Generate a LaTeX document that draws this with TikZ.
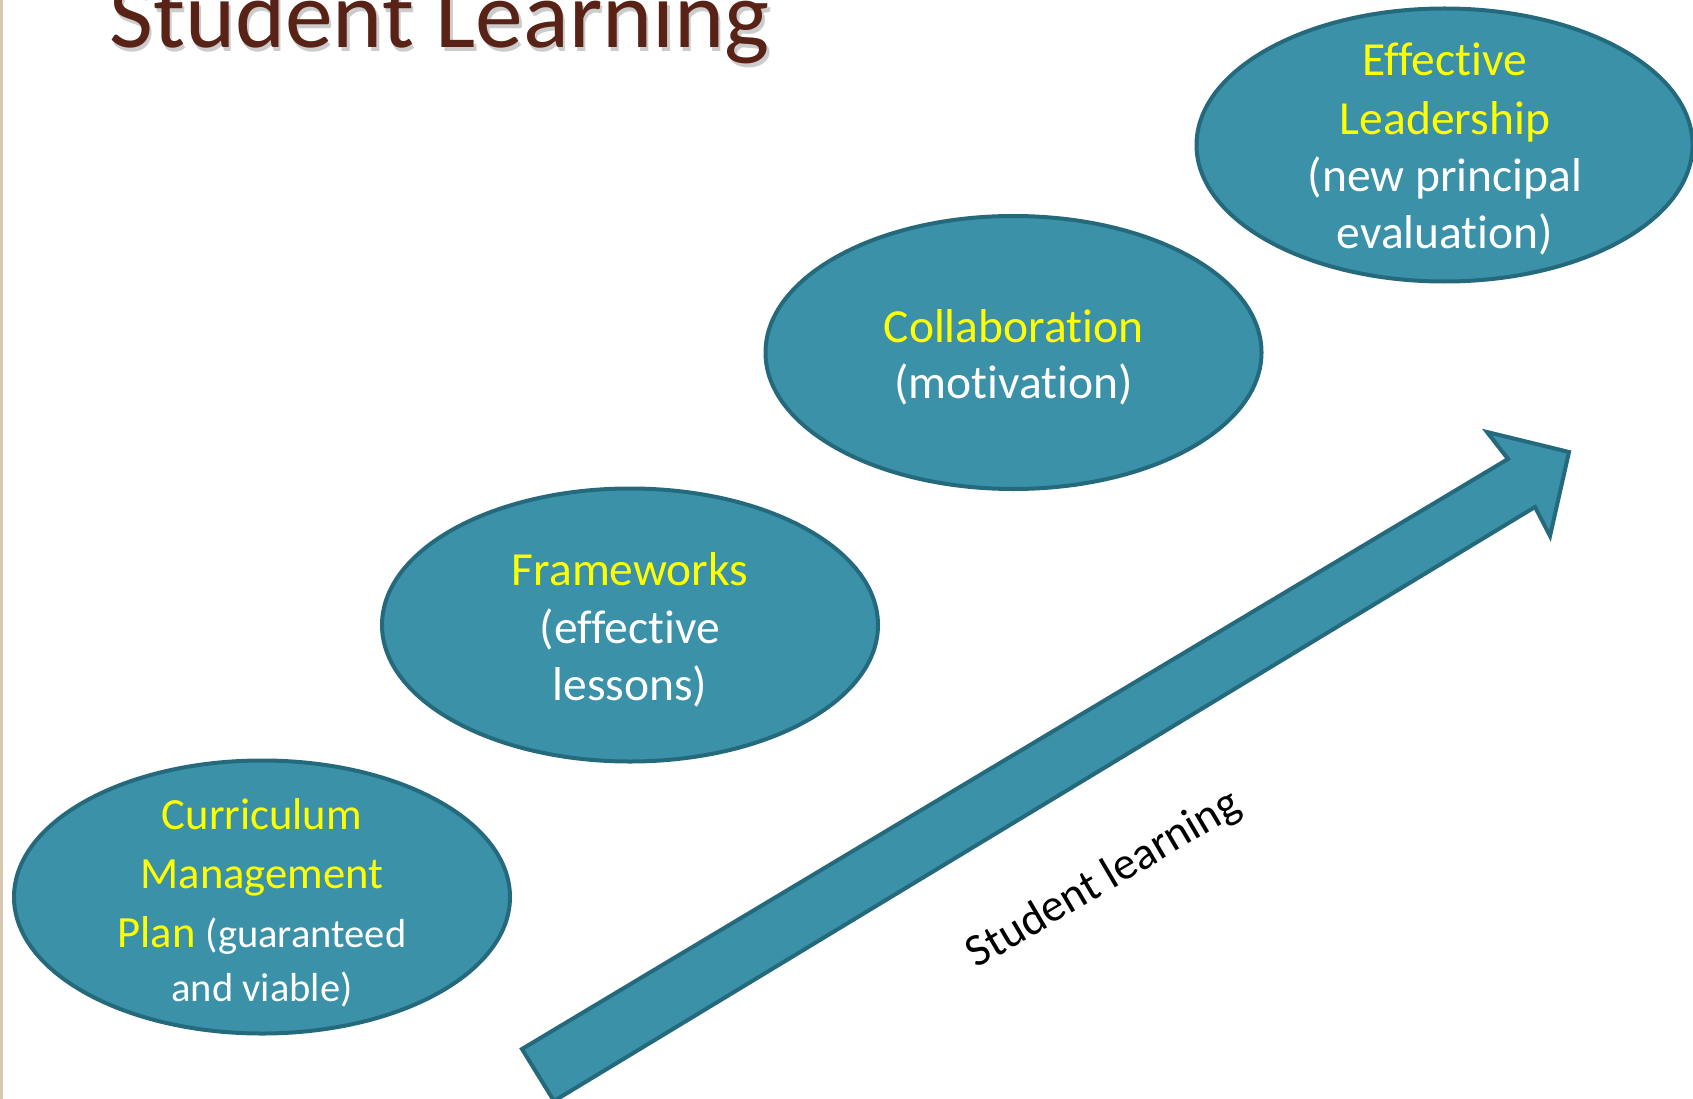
\documentclass[tikz,border=0pt]{standalone}
\usepackage{fontspec}
\setmainfont{Carlito}[Ligatures={NoCommon,NoContextual}]
\usetikzlibrary{shapes.geometric}
\definecolor{bubblefill}{RGB}{58,145,168}
\definecolor{bubbleline}{RGB}{37,106,124}
\definecolor{titlebrown}{RGB}{88,35,22}
\definecolor{hiyellow}{RGB}{255,255,0}
\definecolor{edgebeige}{RGB}{214,201,176}
\begin{document}
\begin{tikzpicture}[x=1pt,y=-1pt,
  bubble/.style={ellipse, draw=bubbleline, fill=bubblefill, line width=4pt,
    minimum width=496pt, minimum height=273pt, inner sep=0pt},
  linetext/.style={anchor=base, inner sep=0pt, font=\fontsize{47.5}{57}\selectfont},
  ytext/.style={linetext, text=hiyellow},
  wtext/.style={linetext, text=white},
  arrowbody/.style={draw=bubbleline, fill=bubblefill, line width=4pt, line join=miter}]
\clip (0,0) rectangle (1693,1099);
\fill[white] (0,0) rectangle (1693,1099);
\fill[edgebeige] (0,0) rectangle (3,1099);

% title
\node[anchor=base west, inner sep=0pt, text=black, opacity=0.2,
  font=\fontsize{95.5}{100}\selectfont] (titleshadow) at (111.5,51.5) {Student Learning};
\node[anchor=base west, inner sep=0pt, text=titlebrown,
  font=\fontsize{95.5}{100}\selectfont] (title) at (109,48) {Student Learning};

% big arrow
\coordinate (T1) at (522,1049);
\coordinate (N1) at (1508,459);
\coordinate (B1) at (1487,432);
\coordinate (P)  at (1569,452);
\coordinate (B2) at (1550,536);
\coordinate (N2) at (1535,507);
\coordinate (T2) at (554,1101);
\draw[arrowbody] (T1) -- (N1) -- (B1) -- (P) -- (B2) -- (N2) -- (T2) -- cycle;

% bubbles
\node[bubble] (cmp) at (262,897) {};
\node[bubble] (frm) at (630,625) {};
\node[bubble] (col) at (1013.5,352.5) {};
\node[bubble] (lead) at (1444.5,145) {};

% Curriculum Management Plan
\node[ytext, font=\fontsize{44.6}{54}\selectfont] (cmp1) at (262,829) {Curriculum};
\node[ytext, font=\fontsize{44.6}{54}\selectfont] (cmp2) at (262,888) {Management};
\node[linetext] (cmp3) at (262,947.5) {\fontsize{44.6}{54}\selectfont\color{hiyellow}Plan \color{white}\fontsize{40.5}{49}\selectfont(guaranteed};
\node[wtext, font=\fontsize{40.5}{49}\selectfont] (cmp4) at (262,1001.5) {and viable)};

% Frameworks
\node[ytext] (frm1) at (630,585) {Frameworks};
\node[wtext] (frm2) at (630,643) {(effective};
\node[wtext] (frm3) at (630,700) {lessons)};

% Collaboration
\node[ytext] (col1) at (1013.5,342) {Collaboration};
\node[wtext] (col2) at (1013.5,398) {(motivation)};

% Effective Leadership
\node[ytext] (lead1) at (1445,76) {Effective};
\node[ytext] (lead2) at (1445,135) {Leadership};
\node[wtext] (lead3) at (1445,192) {(new principal};
\node[wtext] (lead4) at (1445,248) {evaluation)};

% arrow label
\node[rotate=30.5, inner sep=0pt, font=\fontsize{46}{55}\selectfont] (lbl) at (1104,880) {Student learning};
\end{tikzpicture}
\end{document}
